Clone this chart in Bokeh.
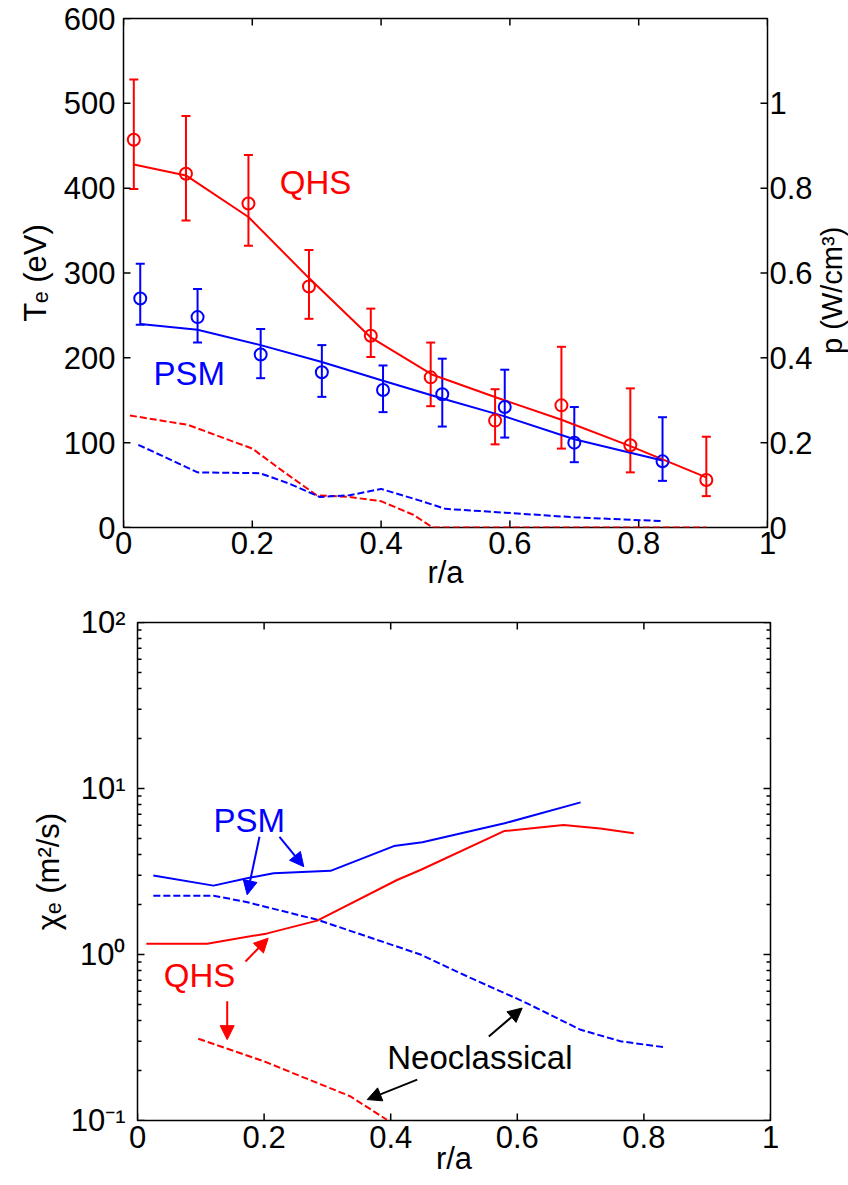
import math
from bokeh.plotting import figure
from bokeh.models import (Range1d, LinearAxis, LogAxis, FixedTicker, CustomJSTickFormatter,
                          ColumnDataSource, Whisker, TeeHead, Label, Arrow, NormalHead)
from bokeh.layouts import column, row
from bokeh.embed import file_html
from bokeh.resources import INLINE

RED = "#ff0000"
BLUE = "#0000ff"
FONT = "Liberation Sans"

# ---------------- top panel data: Te (eV) and power density (W/cm^3) ----------------
qhs_r = [0.016, 0.097, 0.194, 0.288, 0.384, 0.477, 0.577, 0.680, 0.787, 0.905]
qhs_te = [457, 417, 382, 284, 226, 177, 126, 144, 97, 56]
qhs_lo = [399, 362, 332, 246, 201, 143, 98, 93, 65, 37]
qhs_hi = [528, 485, 439, 327, 258, 218, 163, 213, 164, 107]
qhs_fit_r = [0.016, 0.097, 0.194, 0.288, 0.384, 0.48, 0.58, 0.68, 0.787, 0.905]
qhs_fit_te = [428, 415, 366, 294, 224, 180, 153, 127, 96, 59]

psm_r = [0.026, 0.115, 0.213, 0.308, 0.403, 0.495, 0.592, 0.700, 0.837]
psm_te = [270, 248, 204, 183, 162, 157, 142, 100, 78]
psm_lo = [239, 218, 176, 154, 136, 119, 106, 77, 55]
psm_hi = [311, 281, 234, 215, 191, 199, 186, 142, 130]
psm_fit_r = [0.026, 0.115, 0.213, 0.308, 0.403, 0.495, 0.592, 0.700, 0.837]
psm_fit_te = [240, 233, 215, 195, 173, 152, 131, 104, 79]

qhs_p_r = [0.01, 0.10, 0.20, 0.25, 0.30, 0.35, 0.40, 0.45, 0.48, 0.60, 0.70, 0.80, 0.905]
qhs_p = [0.264, 0.242, 0.186, 0.130, 0.076, 0.072, 0.062, 0.030, 0.0, 0.0, 0.0, 0.0, 0.0]
psm_p_r = [0.023, 0.115, 0.212, 0.258, 0.305, 0.351, 0.40, 0.459, 0.50, 0.592, 0.70, 0.837]
psm_p = [0.195, 0.130, 0.128, 0.103, 0.072, 0.076, 0.091, 0.064, 0.044, 0.035, 0.024, 0.015]

# ---------------- bottom panel data: chi_e (m^2/s) ----------------
psm_chi_r = [0.025, 0.12, 0.173, 0.215, 0.305, 0.405, 0.45, 0.58, 0.70]
psm_chi = [2.99, 2.60, 2.88, 3.09, 3.19, 4.50, 4.75, 6.17, 8.25]
psm_neo_r = [0.025, 0.12, 0.17, 0.284, 0.447, 0.527, 0.61, 0.70, 0.763, 0.833]
psm_neo = [2.26, 2.26, 2.08, 1.62, 1.00, 0.72, 0.52, 0.352, 0.30, 0.276]
qhs_chi_r = [0.014, 0.11, 0.205, 0.284, 0.41, 0.447, 0.579, 0.673, 0.731, 0.784]
qhs_chi = [1.16, 1.16, 1.34, 1.60, 2.81, 3.23, 5.54, 6.03, 5.75, 5.37]
qhs_neo_r = [0.096, 0.20, 0.2575, 0.336, 0.394]
qhs_neo = [0.311, 0.227, 0.185, 0.140, 0.101]

x_ticks = [0, 0.2, 0.4, 0.6, 0.8, 1.0]
te_ticks = [0, 100, 200, 300, 400, 500, 600]
p_ticks = [0, 0.2, 0.4, 0.6, 0.8, 1.0]
chi_ticks = [0.1, 1, 10, 100]
chi_minor = [m * d for d in (0.1, 1, 10) for m in range(2, 10)]

X_MIN, X_MAX = 0, 1
TE_MIN, TE_MAX = 0, 600
P_MIN, P_MAX = 0, 1.2
CHI_MIN, CHI_MAX = 0.1, 100

dec_fmt = CustomJSTickFormatter(code="return (Math.round(tick*10)/10).toString();")
log_fmt = CustomJSTickFormatter(code="""
const e = Math.round(Math.log10(tick));
const sup = {"-1": "\u207b\u00b9", "0": "\u2070", "1": "\u00b9", "2": "\u00b2"};
return "10" + (sup[String(e)] || "");
""")


def style_axis(ax, standoff=4):
    ax.axis_line_color = None
    ax.major_tick_in = 0
    ax.major_tick_out = 0
    ax.minor_tick_in = 0
    ax.minor_tick_out = 0
    ax.major_label_text_font = FONT
    ax.major_label_text_color = "black"
    ax.major_label_text_font_size = "31px"
    ax.major_label_standoff = standoff
    ax.axis_label_text_font = FONT
    ax.axis_label_text_font_style = "normal"
    ax.axis_label_text_font_size = "31px"
    ax.axis_label_text_color = "black"


def inner_ticks(fig, xs, ys, size, horizontal, **kw):
    # tick marks drawn as dashes centred on the frame edge; the frame clips the outer half
    fig.scatter(xs, ys, marker="dash", size=size, angle=0 if horizontal else math.pi / 2,
                line_color="black", line_width=1.5, **kw)


def base_fig(width, height, left, right, top, bottom, yr, **kw):
    f = figure(width=width, height=height, x_range=Range1d(X_MIN, X_MAX), y_range=yr,
               output_backend="svg", toolbar_location=None,
               x_axis_location=None, y_axis_location=None,
               min_border_left=left, min_border_right=right,
               min_border_top=top, min_border_bottom=bottom, **kw)
    f.grid.visible = False
    f.outline_line_color = "black"
    f.outline_line_width = 1.5
    f.background_fill_color = "white"
    f.border_fill_color = "white"
    return f


TOP_H = 599
P1_W = 815

# ================= top figure =================
p1 = base_fig(P1_W, TOP_H, 123, 45, 18, 72, Range1d(TE_MIN, TE_MAX))
p1.extra_y_ranges = {"pw": Range1d(P_MIN, P_MAX)}

ax = LinearAxis(ticker=FixedTicker(ticks=x_ticks), formatter=dec_fmt, axis_label="r/a")
style_axis(ax, 4)
ax.axis_label_standoff = -2
p1.add_layout(ax, "below")
ax = LinearAxis(ticker=FixedTicker(ticks=te_ticks), axis_label="T\u2091 (eV)")
style_axis(ax, 8)
ax.axis_label_standoff = 8
p1.add_layout(ax, "left")
ax = LinearAxis(ticker=FixedTicker(ticks=p_ticks), formatter=dec_fmt, y_range_name="pw")
style_axis(ax, 2)
p1.add_layout(ax, "right")

inner_ticks(p1, x_ticks, [TE_MIN] * len(x_ticks), 14, False)
inner_ticks(p1, x_ticks, [TE_MAX] * len(x_ticks), 14, False)
inner_ticks(p1, [X_MIN] * len(te_ticks), te_ticks, 14, True)
inner_ticks(p1, [X_MAX] * len(p_ticks), p_ticks, 14, True, y_range_name="pw")

# power density (dashed, right axis)
p1.line(qhs_p_r, qhs_p, y_range_name="pw", line_color=RED, line_width=2, line_dash="7 3")
p1.line(psm_p_r, psm_p, y_range_name="pw", line_color=BLUE, line_width=2, line_dash="7 3")

# fits
p1.line(qhs_fit_r, qhs_fit_te, line_color=RED, line_width=2)
p1.line(psm_fit_r, psm_fit_te, line_color=BLUE, line_width=2)

for r, te, lo, hi, col in ((qhs_r, qhs_te, qhs_lo, qhs_hi, RED), (psm_r, psm_te, psm_lo, psm_hi, BLUE)):
    src = ColumnDataSource(dict(r=r, te=te, lo=lo, hi=hi))
    w = Whisker(source=src, base="r", upper="hi", lower="lo", dimension="height",
                line_color=col, line_width=2,
                upper_head=TeeHead(size=9, line_color=col, line_width=2),
                lower_head=TeeHead(size=9, line_color=col, line_width=2))
    p1.add_layout(w)
    p1.scatter("r", "te", source=src, marker="circle", size=12, fill_color=None,
               line_color=col, line_width=2)

p1.add_layout(Label(x=0.2427, y=407, text="QHS", text_color=RED, text_font=FONT,
                    text_font_size="33px", text_baseline="middle", text_align="left"))
p1.add_layout(Label(x=0.0464, y=182, text="PSM", text_color=BLUE, text_font=FONT,
                    text_font_size="33px", text_baseline="middle", text_align="left"))

# narrow strip to the right of the top panel holding the right-axis title
side = figure(width=848 - P1_W, height=TOP_H, x_range=Range1d(0, 1), y_range=Range1d(0, 1),
              output_backend="svg", toolbar_location=None,
              x_axis_location=None, y_axis_location=None,
              min_border_left=0, min_border_right=0, min_border_top=0, min_border_bottom=0)
side.grid.visible = False
side.outline_line_color = None
side.border_fill_color = "white"
side.background_fill_color = "white"
side.add_layout(Label(x=0.5, y=0.466, text="p (W/cm\u00b3)", text_color="black",
                      text_font=FONT, text_font_size="29px", text_baseline="middle",
                      text_align="center", angle=math.pi / 2))

# ================= bottom figure =================
p2 = base_fig(848, 1185 - TOP_H, 137, 78, 23, 65, Range1d(CHI_MIN, CHI_MAX), y_axis_type="log")

ax = LinearAxis(ticker=FixedTicker(ticks=x_ticks), formatter=dec_fmt, axis_label="r/a")
style_axis(ax, 5)
ax.axis_label_standoff = -10
p2.add_layout(ax, "below")
ax = LogAxis(ticker=FixedTicker(ticks=chi_ticks, minor_ticks=chi_minor), formatter=log_fmt,
             axis_label="\u03c7\u2091 (m\u00b2/s)")
style_axis(ax, 12)
ax.axis_label_standoff = 2
p2.add_layout(ax, "left")

inner_ticks(p2, x_ticks, [CHI_MIN] * len(x_ticks), 14, False)
inner_ticks(p2, x_ticks, [CHI_MAX] * len(x_ticks), 14, False)
for xe in (X_MIN, X_MAX):
    inner_ticks(p2, [xe] * len(chi_ticks), chi_ticks, 14, True)
    inner_ticks(p2, [xe] * len(chi_minor), chi_minor, 8, True)

p2.line(psm_chi_r, psm_chi, line_color=BLUE, line_width=2)
p2.line(psm_neo_r, psm_neo, line_color=BLUE, line_width=2, line_dash="7 3")
p2.line(qhs_chi_r, qhs_chi, line_color=RED, line_width=2)
p2.line(qhs_neo_r, qhs_neo, line_color=RED, line_width=2, line_dash="7 3")

p2.add_layout(Label(x=0.12, y=6.46, text="PSM", text_color=BLUE, text_font=FONT,
                    text_font_size="33px", text_baseline="middle", text_align="left"))
p2.add_layout(Label(x=0.0416, y=0.745, text="QHS", text_color=RED, text_font=FONT,
                    text_font_size="33px", text_baseline="middle", text_align="left"))
p2.add_layout(Label(x=0.3945, y=0.239, text="Neoclassical", text_color="black", text_font=FONT,
                    text_font_size="33px", text_baseline="middle", text_align="left"))


def arrow(fig, x0, y0, x1, y1, col):
    fig.add_layout(Arrow(x_start=x0, y_start=y0, x_end=x1, y_end=y1, line_color=col, line_width=2,
                         end=NormalHead(size=14, fill_color=col, line_color=col, line_width=1)))


arrow(p2, 0.1927, 5.12, 0.1733, 2.29, BLUE)
arrow(p2, 0.2243, 5.12, 0.2627, 3.38, BLUE)
arrow(p2, 0.1706, 0.908, 0.2065, 1.255, RED)
arrow(p2, 0.1417, 0.522, 0.1417, 0.307, RED)
arrow(p2, 0.4419, 0.1764, 0.3629, 0.1337, "black")
arrow(p2, 0.555, 0.321, 0.6077, 0.476, "black")

layout = column(row(p1, side, spacing=0), p2, spacing=0)
with open("out.html", "w", encoding="utf-8") as f:
    f.write(file_html(layout, INLINE, title="Te and chi_e profiles"))
